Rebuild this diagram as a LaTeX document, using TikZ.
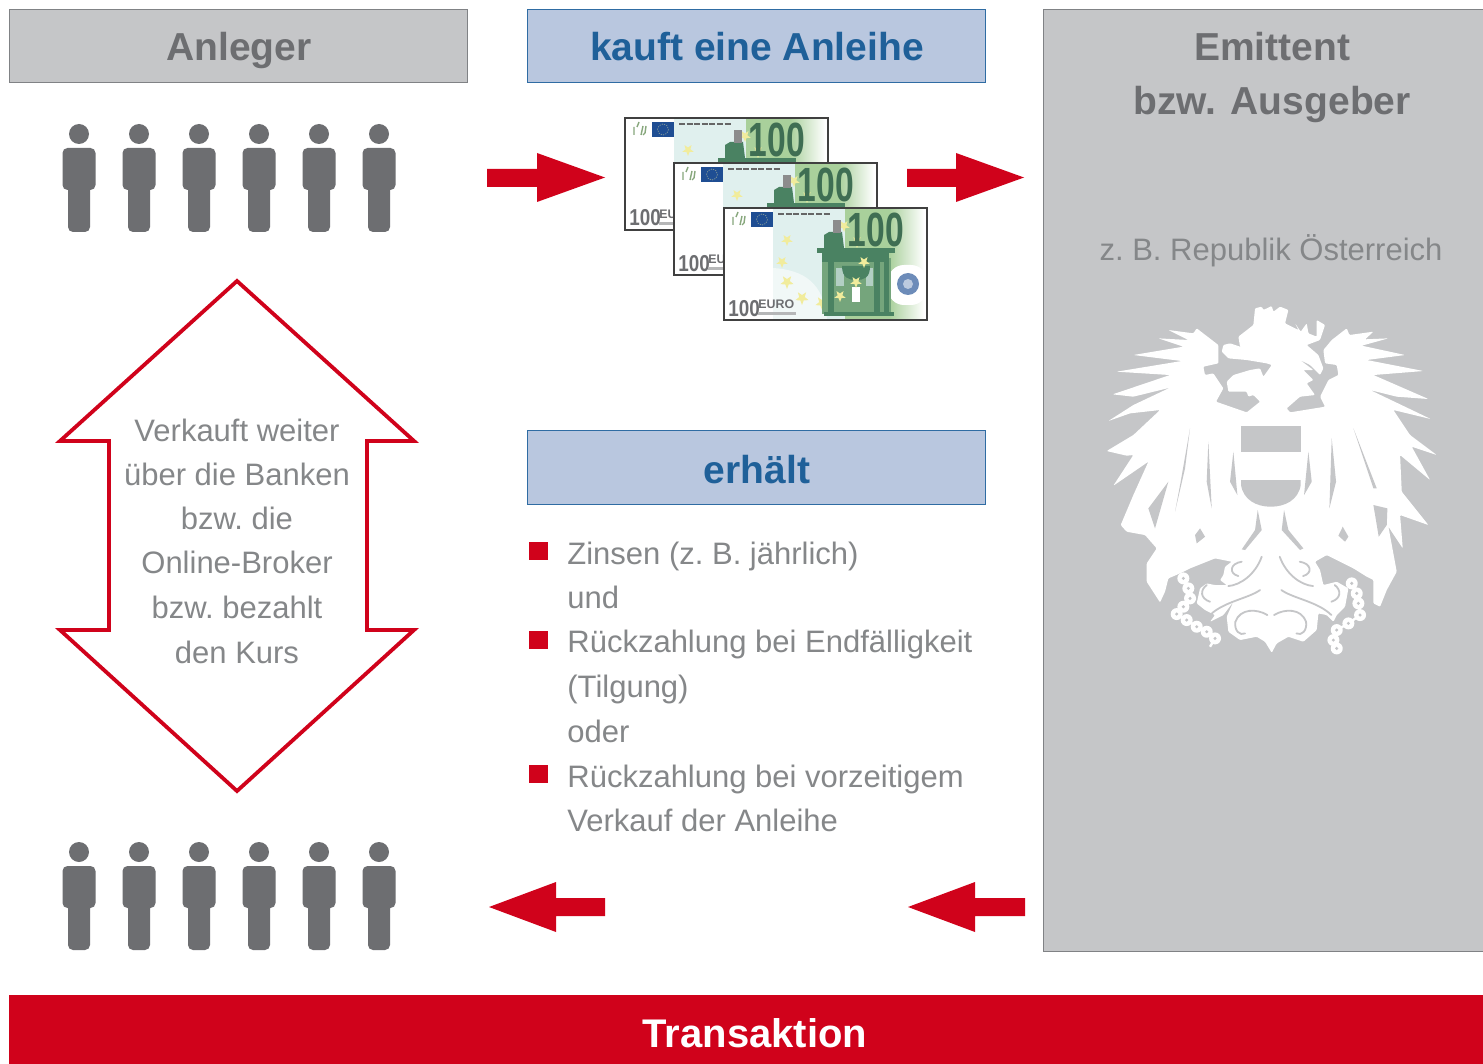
\documentclass[tikz,border=0pt]{standalone}
\usepackage{fontspec}
\setmainfont{Liberation Sans}
\definecolor{panelgray}{HTML}{C5C6C8}
\definecolor{edgegray}{HTML}{808285}
\definecolor{mangray}{HTML}{6D6E71}
\definecolor{txtgray}{HTML}{858789}
\definecolor{boxblue}{HTML}{B9C7DF}
\definecolor{edgeblue}{HTML}{2F6CA3}
\definecolor{txtblue}{HTML}{1F6099}
\definecolor{redmain}{HTML}{D0021B}
\definecolor{notegreen}{HTML}{A9D09B}
\definecolor{notedark}{HTML}{4A8262}
\definecolor{notepale}{HTML}{E0F0EE}
\definecolor{euroblue}{HTML}{1F4E93}
\definecolor{staryellow}{HTML}{F1EC9C}
\tikzset{
  panel/.style={draw=edgegray,fill=panelgray,line width=0.5pt},
  bluebox/.style={draw=edgeblue,fill=boxblue,line width=0.5pt},
  headgray/.style={text=mangray,font=\fontsize{19.5}{24}\selectfont\bfseries,inner sep=0pt,anchor=base},
  headblue/.style={text=txtblue,font=\fontsize{19.5}{24}\selectfont\bfseries,inner sep=0pt,anchor=base},
  bodytext/.style={text=txtgray,font=\fontsize{15.5}{20}\selectfont\frenchspacing,inner sep=0pt,anchor=base west},
  midtext/.style={text=txtgray,font=\fontsize{15.5}{20}\selectfont\frenchspacing,inner sep=0pt,anchor=base},
  bullet/.style={fill=redmain,draw=none},
  redarrow/.style={fill=redmain,draw=none},
  scrollgap/.style={draw=panelgray,line width=0.9pt,line cap=round}
}
\newcommand{\personicon}[2]{%
  \begin{scope}[shift={(#1,#2)}]
    \fill[mangray] (0,0) circle[radius=10];
    \fill[mangray,rounded corners=2.5pt] (-16.5,14) rectangle (16.5,56);
    \fill[mangray,rounded corners=2.5pt] (-11,40) rectangle (11,98);
  \end{scope}}
\newcommand{\starmark}[3]{%
  \fill[staryellow] (#1,#2) +(90:#3) -- +(126:.42*#3) -- +(162:#3) -- +(198:.42*#3) -- +(234:#3)
    -- +(270:.42*#3) -- +(306:#3) -- +(342:.42*#3) -- +(18:#3) -- +(54:.42*#3) -- cycle;}
\newcommand{\euronote}[1]{%
  \begin{scope}[shift={#1}]
    \fill[white] (0,0) rectangle (203,112);
    \fill[notepale] (49,0) rectangle (121,112);
    \fill[white,opacity=.55] (49,60) .. controls (80,62) and (100,75) .. (103,112) -- (49,112) -- cycle;
    \fill[notegreen] (121,0) rectangle (165,112);
    \shade[left color=notegreen,right color=white] (165,0) rectangle (200,112);
    \fill[white,rounded corners=8pt] (164,57) rectangle (203,97);
    % stars
    \starmark{63}{32}{6}\starmark{58}{54}{6}\starmark{63}{74}{7}\starmark{78}{90}{7}\starmark{98}{95}{7}
    \starmark{120}{18}{6}\starmark{133}{34}{6}
    % building
    \fill[notedark!55!notegreen] (98,50) rectangle (167,106);
    \fill[notedark] (100,27) -- (105,24) -- (118,24) -- (120,40) -- (100,40) -- cycle;
    \fill[notedark] (93,40) rectangle (171,45);
    \fill[notedark] (98,45) rectangle (165,54);
    \fill[notedark] (104,54) rectangle (110,105);
    \fill[notedark] (150,54) rectangle (156,105);
    \fill[notedark] (160,54) rectangle (165,105);
    \fill[notepale!70!notedark] (112,60) rectangle (120,78);
    \fill[notepale!70!notedark] (142,60) rectangle (149,78);
    \fill[notedark] (118,58) .. controls (118,70) and (125,72) .. (132,72) .. controls (140,72) and (146,70) .. (146,58) -- cycle;
    \fill[notedark] (100,104) rectangle (170,108);
    \fill[white] (128,79) rectangle (136,94);
    \starmark{132}{74}{6}\starmark{140}{54}{6}\starmark{116}{88}{6}
    \fill[black!45] (109,12) rectangle (117,25);
    % seal
    \fill[euroblue!65!white] (184,76) circle[radius=11];
    \fill[white!70!euroblue] (184,76) circle[radius=5];
    % big value
    \node[text=notedark!85!black,inner sep=0pt,font=\fontsize{24}{24}\selectfont\bfseries,xscale=.7,transform shape,anchor=center] at (152,22) {100};
    % flag and signature
    \fill[euroblue] (27,4) rectangle (49,19);
    \draw[staryellow!50!euroblue,line width=0.35pt,dash pattern=on 0.6pt off 0.6pt] (38,11.5) circle[radius=5.5];
    \draw[notegreen!80!black,line width=0.7pt] (9,17) -- (9,9) (12,9) -- (14,4) (16,17) -- (18,8) (21,8) -- (20,15) -- (18,17);
    \draw[black!60,line width=0.8pt,dash pattern=on 3pt off 0.8pt] (54,6) -- (106,6);
    % bottom value
    \node[text=mangray,inner sep=0pt,font=\fontsize{11.5}{12}\selectfont\bfseries,xscale=.82,transform shape,anchor=base west] at (4,108) {100};
    \node[text=mangray,inner sep=0pt,font=\fontsize{6.2}{7}\selectfont\bfseries,anchor=base west] at (34,100.5) {EURO};
    \draw[mangray!50,line width=1.4pt] (34,105.5) -- (72,105.5);
    \draw[black!75,line width=0.6pt] (0,0) rectangle (203,112);
  \end{scope}}
\begin{document}
\begin{tikzpicture}[x=0.5pt,y=-0.5pt]
\useasboundingbox (0,0) rectangle (1483,1064);
\fill[white] (0,0) rectangle (1483,1064);

% top boxes
\node[panel,minimum width=229pt,minimum height=36.5pt,inner sep=0pt] (anleger) at (238.7,46.2) {};
\node[headgray] (anlegertext) at (239,61) {Anleger};
\node[bluebox,minimum width=229pt,minimum height=36.5pt,inner sep=0pt] (kauft) at (756.7,46.2) {};
\node[headblue] (kaufttext) at (757,61) {kauft eine Anleihe};

% emitter panel
\draw[panel] (1484,951) -- (1043,951) -- (1043,9.7) -- (1484,9.7);
\node[headgray] (emittent) at (1272,61) {Emittent};
\node[headgray] (ausgeber) at (1272,115) {bzw. Ausgeber};
\node[midtext] (oesterreich) at (1271,261) {z. B. Republik Österreich};

% people
\foreach \px in {79,139,199,259,319,379} {
  \personicon{\px}{134}
  \personicon{\px}{852}
}

% banknotes
\euronote{(625,118)}
\euronote{(674,163)}
\euronote{(724,208)}

% red arrows
\fill[redarrow] (487,169) -- (537,169) -- (537,153) -- (605,177.5) -- (537,202) -- (537,187) -- (487,187) -- cycle;
\fill[redarrow] (907,169) -- (956,169) -- (956,153) -- (1024,177.5) -- (956,202) -- (956,187) -- (907,187) -- cycle;
\fill[redarrow] (605,898) -- (556,898) -- (556,882) -- (489,907) -- (556,932) -- (556,916) -- (605,916) -- cycle;
\fill[redarrow] (1025,898) -- (975,898) -- (975,882) -- (908,907) -- (975,932) -- (975,916) -- (1025,916) -- cycle;

% double arrow
\draw[draw=redmain,fill=white,line width=1.9pt,miter limit=10]
  (237,281) -- (414,441) -- (367,441) -- (367,630) -- (414,630) -- (237,791)
  -- (60,630) -- (109,630) -- (109,441) -- (60,441) -- cycle;
\node[midtext] (v1) at (237,441) {Verkauft weiter};
\node[midtext] (v2) at (237,485) {über die Banken};
\node[midtext] (v3) at (237,529) {bzw. die};
\node[midtext] (v4) at (237,573) {Online-Broker};
\node[midtext] (v5) at (237,618) {bzw. bezahlt};
\node[midtext] (v6) at (237,663) {den Kurs};

% erhaelt
\node[bluebox,minimum width=229pt,minimum height=37pt,inner sep=0pt] (erhaelt) at (756.7,467.7) {};
\node[headblue] (erhaelttext) at (757,483.5) {erhält};

\fill[bullet] (529,542) rectangle (548,560);
\fill[bullet] (529,631) rectangle (548,649);
\fill[bullet] (529,765) rectangle (548,783);
\node[bodytext] (l1) at (567,564) {Zinsen (z. B. jährlich)};
\node[bodytext] (l2) at (567,608) {und};
\node[bodytext] (l3) at (567,652) {Rückzahlung bei Endfälligkeit};
\node[bodytext] (l4) at (567,697) {(Tilgung)};
\node[bodytext] (l5) at (567,742) {oder};
\node[bodytext] (l6) at (567,787) {Rückzahlung bei vorzeitigem};
\node[bodytext] (l7) at (567,831) {Verkauf der Anleihe};

% eagle
\begin{scope}[shift={(1090,295)},x=0.1667pt,y=-0.1667pt]
  \fill[white,line join=round,rounded corners=0.5pt]
    (495,40) -- (515,35) -- (520,45) -- (545,33) -- (550,50) -- (570,35) -- (595,45) -- (585,85)
    -- (625,105) -- (615,85) -- (632,110) -- (650,85) -- (655,115) -- (680,125) -- (680,75) -- (705,90) -- (690,135)
    -- (650,150) -- (685,180) -- (700,220) -- (690,240) -- (660,210) -- (630,195) -- (670,225) -- (640,225) -- (670,255)
    -- (650,265) -- (675,300) -- (630,305) -- (590,340) -- (600,352) -- (705,335) -- (690,305) -- (715,255) -- (745,240)
    -- (740,210) -- (705,205) -- (700,165) -- (725,135) -- (770,100) -- (778,120) -- (850,110) -- (825,133) -- (895,130)
    -- (815,152) -- (945,180) -- (830,195) -- (1000,228) -- (850,240) -- (1015,312) -- (920,305) -- (840,285) -- (1022,372)
    -- (910,345) -- (960,420) -- (1040,480) -- (965,455) -- (1020,555) -- (930,480) -- (935,590) -- (1015,690)
    -- (930,660) -- (938,760) -- (895,695) -- (920,830) -- (890,885) -- (870,935) -- (850,925) -- (850,855) -- (830,845)
    -- (790,820) -- (710,780) -- (675,800) -- (690,825) -- (700,870) -- (740,860) -- (775,880) -- (765,935) -- (740,960)
    -- (730,980) -- (710,960) -- (685,955) -- (680,1005) -- (640,1040) -- (595,1025) -- (560,1045) -- (545,1073)
    -- (525,1040) -- (500,1025) -- (450,1035) -- (415,1010) -- (410,965) -- (430,920) -- (400,960) -- (360,980)
    -- (375,960) -- (345,945) -- (320,925) -- (330,880) -- (350,865) -- (375,870) -- (410,870) -- (390,855) -- (400,840)
    -- (405,815) -- (425,800) -- (375,790) -- (300,820) -- (270,835) -- (235,850) -- (225,890) -- (210,922) -- (170,860)
    -- (170,805) -- (200,760) -- (165,720) -- (110,710) -- (92,690) -- (130,600) -- (175,500) -- (70,572) -- (130,480)
    -- (110,482) -- (50,468) -- (130,420) -- (210,345) -- (120,355) -- (55,378) -- (130,330) -- (240,278) -- (130,305)
    -- (68,298) -- (240,240) -- (80,230) -- (275,198) -- (130,180) -- (280,155) -- (205,130) -- (295,135) -- (235,105)
    -- (310,115) -- (320,100) -- (385,150) -- (385,205) -- (340,215) -- (345,240) -- (370,235) -- (400,280) -- (378,320)
    -- (470,352) -- (510,320) -- (490,300) -- (475,305) -- (470,290) -- (445,290) -- (415,290) -- (410,260) -- (430,240)
    -- (480,225) -- (510,220) -- (520,245) -- (545,210) -- (530,205) -- (470,195) -- (415,190) -- (395,170) -- (400,150)
    -- (420,145) -- (450,155) -- (495,170) -- (450,155) -- (445,125) -- (490,90) -- cycle;
  % shield
  \fill[panelgray] (453,393) rectangle (632,470);
  \fill[panelgray] (453,555) -- (632,555) -- (632,570) .. controls (625,615) and (585,635) .. (542,635) .. controls (500,635) and (460,615) .. (453,570) -- cycle;
  % slivers between legs and body
  \fill[panelgray] (503,645) -- (515,705) -- (465,765) -- (455,763) -- (495,705) -- cycle;
  \fill[panelgray] (582,645) -- (575,705) -- (630,765) -- (640,760) -- (595,705) -- cycle;
  \fill[panelgray] (320,745) -- (345,725) -- (330,700) -- (315,720) -- cycle;
  \fill[panelgray] (765,740) -- (745,722) -- (758,695) -- (775,725) -- cycle;
  % feather slits
  \fill[panelgray] (300,400) -- (272,560) -- (255,650) -- (285,520) -- cycle;
  \fill[panelgray] (355,440) -- (365,640) -- (350,560) -- cycle;
  \fill[panelgray] (430,470) -- (442,600) -- (420,560) -- cycle;
  \fill[panelgray] (655,470) -- (642,600) -- (665,560) -- cycle;
  \fill[panelgray] (725,430) -- (718,640) -- (738,560) -- cycle;
  \fill[panelgray] (790,400) -- (860,580) -- (850,580) -- cycle;
  \fill[panelgray] (175,640) -- (235,560) -- (195,700) -- cycle;
  \fill[panelgray] (850,630) -- (892,640) -- (890,690) -- (866,725) -- cycle;
  % tail details and chains, coordinates of the lower crop
  \begin{scope}[shift={(210,615)}]
    \draw[scrollgap] (305,170) .. controls (285,225) and (240,255) .. (205,258);
    \draw[scrollgap] (359,170) .. controls (379,225) and (424,255) .. (459,258);
    \draw[scrollgap] (300,270) .. controls (265,295) and (190,305) .. (150,345);
    \draw[scrollgap] (364,270) .. controls (399,295) and (474,305) .. (514,345);
    \draw[scrollgap] (322,345) .. controls (290,325) and (240,325) .. (226,365) .. controls (222,392) and (240,408) .. (255,400);
    \draw[scrollgap] (342,345) .. controls (374,325) and (424,325) .. (438,365) .. controls (442,392) and (424,408) .. (409,400);
    \draw[scrollgap] (140,255) .. controls (120,270) and (120,295) .. (150,305);
    \draw[scrollgap] (524,255) .. controls (544,270) and (544,295) .. (514,305);
    \draw[scrollgap] (245,185) .. controls (210,190) and (205,220) .. (235,228);
    \draw[scrollgap] (419,185) .. controls (454,190) and (459,220) .. (429,228);
    \draw[white,line width=1.2pt] (70,225) -- (85,265) -- (90,295) -- (70,320) -- (50,342) -- (80,360) -- (110,380) -- (140,395) -- (165,415) -- (150,440);
    \draw[white,line width=1.2pt] (575,235) -- (590,280) -- (595,310) -- (600,345) -- (565,370) -- (530,390) -- (520,420) -- (530,455);
    \foreach \cx/\cy in {70/235,85/265,90/295,70/320,50/342,80/360,110/380,140/395,165/415,
                         575/250,590/280,595/310,600/345,565/370,530/390,520/420,530/445} {
      \fill[white] (\cx,\cy) circle[radius=18];
      \fill[panelgray] (\cx,\cy) circle[radius=5];
    }
  \end{scope}
\end{scope}

% bottom band
\node[fill=redmain,minimum width=737pt,minimum height=34.5pt,inner sep=0pt,anchor=north west] (band) at (9,995) {};
\node[text=white,font=\fontsize{20}{24}\selectfont\bfseries,inner sep=0pt,anchor=base] (transaktion) at (755,1047) {Transaktion};
\end{tikzpicture}
\end{document}
